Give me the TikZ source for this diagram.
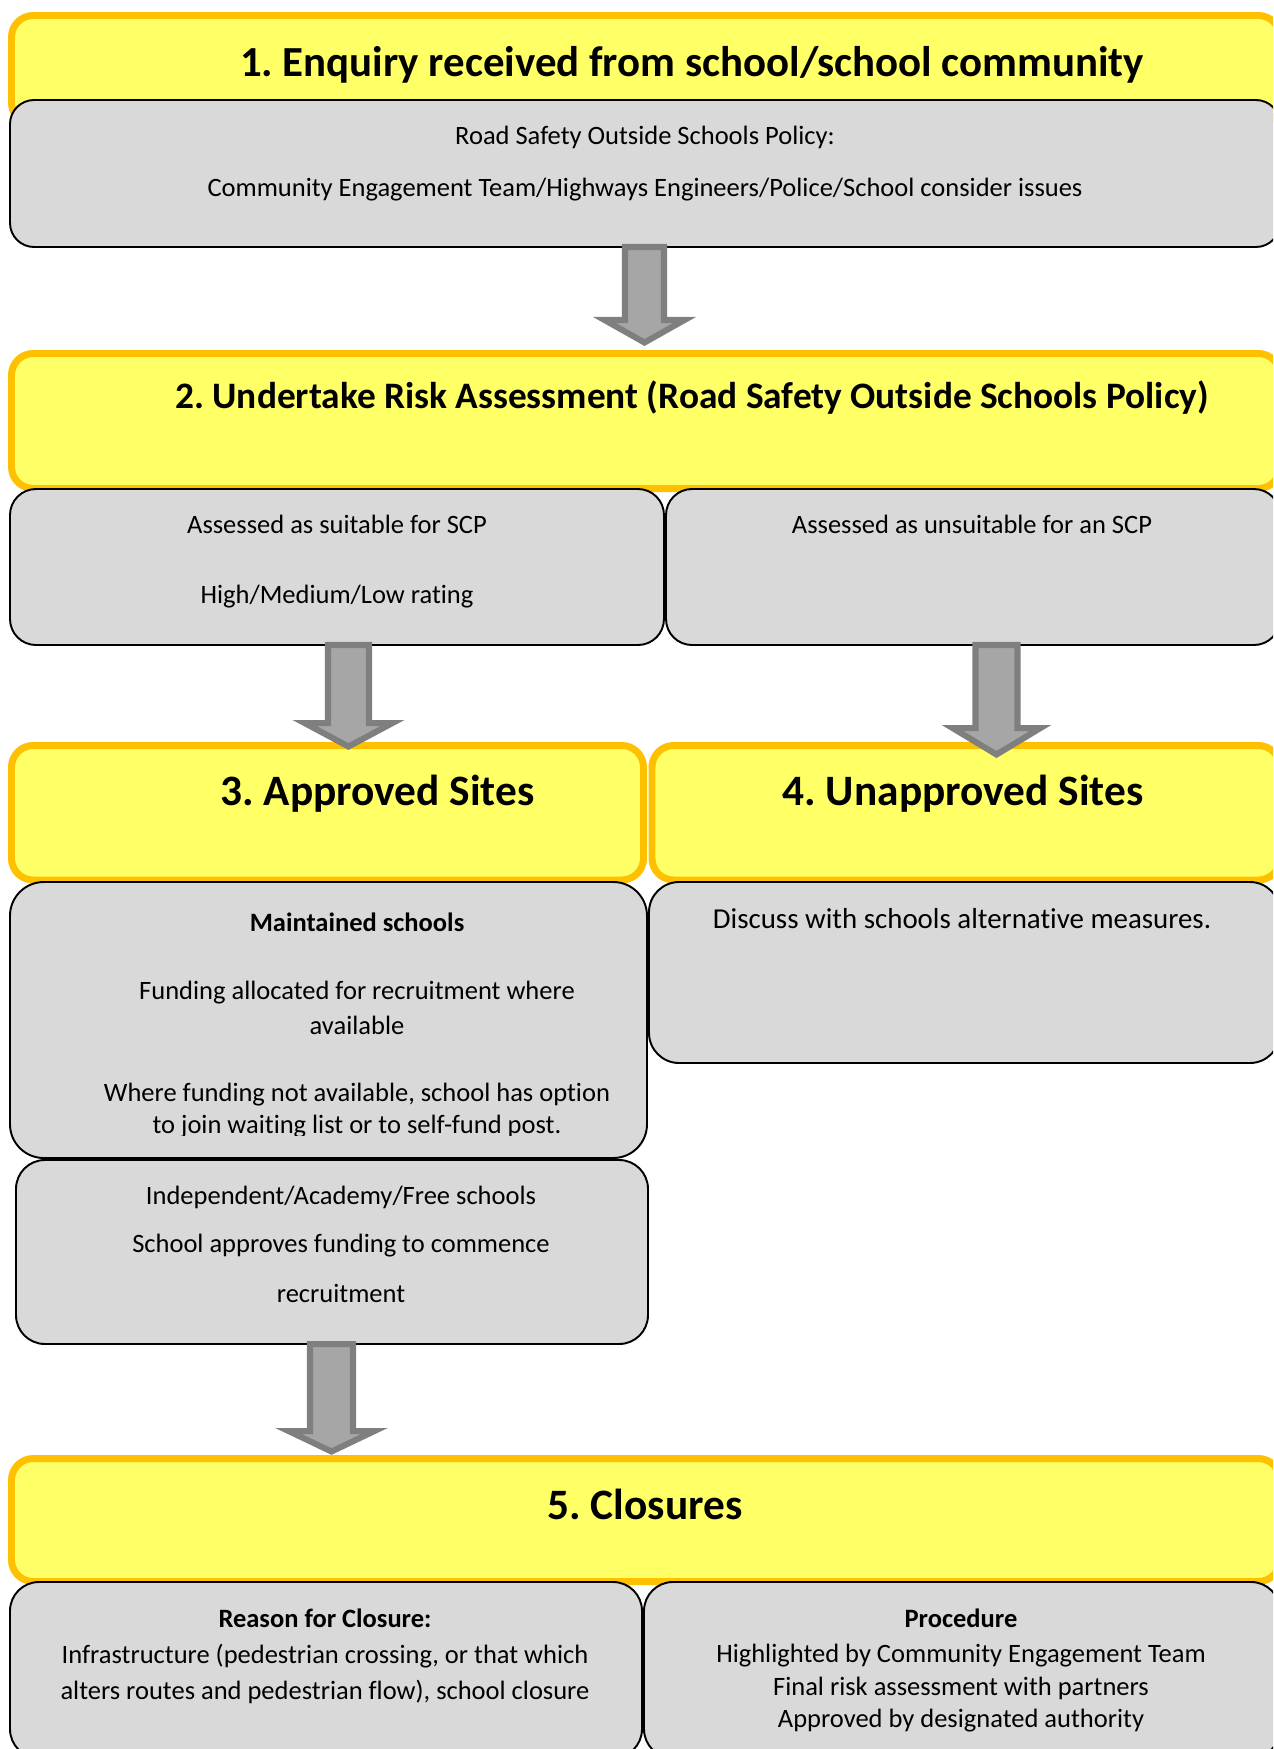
\documentclass[tikz,border=0pt]{standalone}
\usepackage{fontspec}
\setmainfont{Carlito}[Ligatures=NoCommon]
\usetikzlibrary{fit,calc}
\definecolor{yfill}{HTML}{FFFF66}
\definecolor{yline}{HTML}{FFC000}
\definecolor{gfill}{HTML}{D9D9D9}
\definecolor{afill}{HTML}{A6A6A6}
\definecolor{aline}{HTML}{7F7F7F}
\newcommand\blockarrow[5]{%
  \draw[barrow] ($(#1)+(-#3,0)$) -- ($(#2)+(-#3,-#5)$) -- ($(#2)+(-#4,-#5)$) -- (#2)
    -- ($(#2)+(#4,-#5)$) -- ($(#2)+(#3,-#5)$) -- ($(#1)+(#3,0)$) -- cycle;}
\begin{document}
\frenchspacing
\begin{tikzpicture}[x=0.4151pt,y=-0.4151pt,
  ybox/.style={draw=yline, fill=yfill, line width=2.9pt, inner sep=0pt, outer sep=0pt, rounded corners=9pt},
  gbox/.style={draw=black, fill=gfill, line width=0.8pt, inner sep=0pt, outer sep=0pt},
  barrow/.style={draw=aline, fill=afill, line width=2.5pt, line join=miter},
  ttla/.style={font=\fontsize{17.8pt}{21pt}\selectfont\bfseries, inner sep=0pt},
  ttl/.style={font=\fontsize{15.5pt}{19pt}\selectfont\bfseries, inner sep=0pt},
  ttlb/.style={font=\fontsize{18pt}{22pt}\selectfont\bfseries, inner sep=0pt},
  txt/.style={font=\fontsize{11pt}{13pt}\selectfont, inner sep=0pt},
  txtb/.style={font=\fontsize{11pt}{13pt}\selectfont\bfseries, inner sep=0pt},
  txtl/.style={font=\fontsize{12pt}{14pt}\selectfont, inner sep=0pt},
]
\useasboundingbox (0,0) rectangle (1273,1749);
\clip (0,0) rectangle (1273,1749);

% boxes
\node[ybox, fit={(11.5,15.5) (1280,124.5)}] (y1) {};
\node[gbox, rounded corners=10pt, fit={(10,100) (1280,247)}] (g1) {};
\node[ybox, fit={(11.5,353.5) (1280,488.5)}] (y2) {};
\node[gbox, rounded corners=10.8pt, fit={(10,489) (664,645)}] (g2l) {};
\node[gbox, rounded corners=10.8pt, fit={(666,489) (1280,645)}] (g2r) {};
\node[ybox, fit={(11.5,745.5) (643.5,880)}] (y3) {};
\node[ybox, fit={(652,745.5) (1280,880)}] (y4) {};
\node[gbox, rounded corners=14pt, fit={(10,882) (647,1158)}] (g3) {};
\node[gbox, rounded corners=12.5pt, fit={(649,882) (1280,1063)}] (g4) {};
\node[gbox, rounded corners=12pt, fit={(16,1160) (648,1344)}] (g5) {};
\node[ybox, fit={(11.5,1458.5) (1280,1581.5)}] (y5) {};
\node[gbox, rounded corners=12pt, fit={(10,1582) (642,1758)}] (g6l) {};
\node[gbox, rounded corners=12pt, fit={(644,1582) (1280,1758)}] (g6r) {};

% block arrows
\coordinate (ax1) at (644.5,0);
\coordinate (ax2) at (348.5,0);
\coordinate (ax3) at (996.5,0);
\coordinate (ax4) at (331.5,0);
\coordinate (a1s) at (g1.south -| ax1);
\coordinate (a1e) at ($(y2.north -| ax1)+(0,-11)$);
\coordinate (a2s) at (g2l.south -| ax2);
\coordinate (a2e) at ($(y3.north -| ax2)+(0,1)$);
\coordinate (a3s) at (g2r.south -| ax3);
\coordinate (a3e) at ($(y4.north -| ax3)+(0,9)$);
\coordinate (a4s) at (g5.south -| ax4);
\coordinate (a4e) at ($(y5.north -| ax4)+(0,-7)$);
\blockarrow{a1s}{a1e}{19.5}{40}{22.5}
\blockarrow{a2s}{a2e}{20.5}{44}{23.5}
\blockarrow{a3s}{a3e}{21}{44}{26.5}
\blockarrow{a4s}{a4e}{21.5}{43}{20.5}

% titles
\node[ttla] (t1) at (692,65) {1. Enquiry received from school/school community};
\node[ttl] (t2) at (692,398) {2. Undertake Risk Assessment (Road Safety Outside Schools Policy)};
\node[ttlb] (t3) at (377.5,794) {3. Approved Sites};
\node[ttlb] (t4) at (963,794) {4. Unapproved Sites};
\node[ttlb] (t5) at (645,1504) {5. Closures};

% texts
\node[txt] (g1a) at (645,137) {Road Safety Outside Schools Policy:};
\node[txt] (g1b) at (645,190) {Community Engagement Team/Highways Engineers/Police/School consider issues};
\node[txt] (g2la) at (337,524) {Assessed as suitable for SCP};
\node[txt] (g2lb) at (337,597) {High/Medium/Low rating};
\node[txt] (g2ra) at (972,524) {Assessed as unsuitable for an SCP};
\node[txtb] (g3a) at (357,922) {Maintained schools};
\node[txt] (g3b) at (357,993) {Funding allocated for recruitment where};
\node[txt] (g3c) at (357,1025) {available};
\node[txt] (g3d) at (357,1095) {Where funding not available, school has option};
\begin{scope}
\clip (0,0) rectangle (1273,1135);
\node[txt] (g3e) at (357,1127) {to join waiting list or to self-fund post.};
\end{scope}
\node[txtl] (g4a) at (962,919) {Discuss with schools alternative measures.};
\node[txt] (g5a) at (341,1197) {Independent/Academy/Free schools};
\node[txt] (g5b) at (341,1246) {School approves funding to commence};
\node[txt] (g5c) at (341,1293) {recruitment};
\node[txtb] (g6la) at (325,1618) {Reason for Closure:};
\node[txt] (g6lb) at (325,1656) {Infrastructure (pedestrian crossing, or that which};
\node[txt] (g6lc) at (325,1692) {alters routes and pedestrian flow), school closure};
\node[txtb] (g6ra) at (961,1618) {Procedure};
\node[txt] (g6rb) at (961,1656) {Highlighted by Community Engagement Team};
\node[txt] (g6rc) at (961,1688) {Final risk assessment with partners};
\node[txt] (g6rd) at (961,1721) {Approved by designated authority};
\end{tikzpicture}
\end{document}
